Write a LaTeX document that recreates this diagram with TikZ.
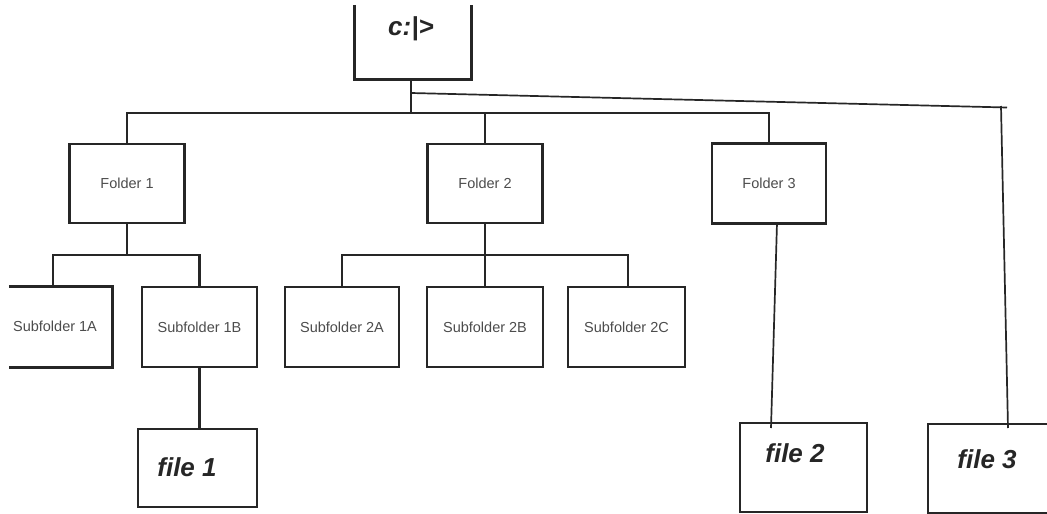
\documentclass[tikz,border=0pt]{standalone}
\usepackage{fontspec}
\setmainfont{Liberation Sans}
\begin{document}
\begin{tikzpicture}[x=1pt,y=-1pt,
  fbox/.style={draw=black!85, line width=2.8pt, inner sep=0pt, minimum width=115pt, minimum height=79pt,
    font=\fontsize{14.5}{16}\selectfont, text=black!70},
  lbl/.style={font=\fontsize{14.5}{16}\selectfont, text=black!70, inner sep=0pt},
  edge3/.style={draw=black!85, line width=2.8pt},
  filebox/.style={draw=black!85, line width=1.8pt, inner sep=0pt},
  conn/.style={draw=black!85, line width=2.3pt},
  thin/.style={draw=black!85, line width=1.7pt},
  big/.style={font=\fontsize{26}{28}\selectfont\bfseries\itshape, text=black!85, inner sep=0pt}]
\useasboundingbox (0,0) rectangle (1047,514);
\clip (0,0) rectangle (1047,514);
% root (top edge not shown)
\node[inner sep=0pt, minimum width=116pt, minimum height=74pt] (root) at (413,42) {};
\draw[edge3, line width=3pt] (root.north west) -- (root.south west) -- (root.south east) -- (root.north east);
\node[big] (roottxt) at (411,29) {c:|>};
% folders
\node[fbox] (f1) at (127,183.5) {Folder 1};
\node[fbox] (f2) at (485,183.5) {Folder 2};
\node[fbox, minimum width=114pt, minimum height=80pt] (f3) at (769,183.5) {Folder 3};
% subfolders
\node[inner sep=0pt, minimum width=103pt, minimum height=80pt] (s1a) at (60.5,327) {};
\draw[edge3] (s1a.north west) -- (s1a.north east) -- (s1a.south east) -- (s1a.south west);
\node[lbl] (s1atxt) at (55,326) {Subfolder 1A};
\node[fbox, minimum height=80pt] (s1b) at (199.5,327) {Subfolder 1B};
\node[fbox, minimum width=114pt, minimum height=80pt] (s2a) at (342,327) {Subfolder 2A};
\node[fbox, minimum width=116pt, minimum height=80pt] (s2b) at (485,327) {Subfolder 2B};
\node[fbox, minimum width=117pt, minimum height=80pt] (s2c) at (626.5,327) {Subfolder 2C};
% files
\node[filebox, minimum width=119pt, minimum height=78pt, line width=2.2pt] (file1) at (197.5,468) {};
\node[big] (file1txt) at (187,467) {file 1};
\node[filebox, minimum width=127pt, minimum height=89pt] (file2) at (803.5,467.5) {};
\node[big] (file2txt) at (795,453) {file 2};
\node[filebox, minimum width=140pt, minimum height=89pt] (file3) at (998,468.5) {};
\node[big] (file3txt) at (987,459) {file 3};
% connectors
\coordinate (bus) at (411,113);
\draw[conn] (root.south -| bus) -- (bus);
\draw[conn] (f1.north) -- (f1.north |- bus) -- (f3.north |- bus) -- (f3.north);
\draw[conn] (f2.north) -- (f2.north |- bus);
\coordinate (sb1) at (127,255);
\draw[conn] (f1.south) -- (sb1);
\coordinate (s1al) at (53,287);
\draw[conn] (s1al) -- (s1al |- sb1) -- (s1b.north |- sb1) -- (s1b.north);
\coordinate (sb2) at (485,255);
\draw[conn] (f2.south) -- (sb2);
\draw[conn] (s2a.north) -- (s2a.north |- sb2) -- (628,255) -- (628,287);
\draw[conn] (s2b.north) -- (sb2);
\draw[conn] (s1b.south) -- (s1b.south |- file1.north);
% folder 3 to file 2
\coordinate (f3out) at (777,223);
\coordinate (c2) at (771,428);
\draw[thin] (f3out) -- (c2);
% root to file 3
\coordinate (k1) at (411,93);
\coordinate (k2) at (1001,106);
\coordinate (k3) at (1007,107.5);
\coordinate (c3) at (1008,428);
\draw[thin] (k1) -- (k3);
\draw[thin] (k2) -- (c3);
\end{tikzpicture}
\end{document}
